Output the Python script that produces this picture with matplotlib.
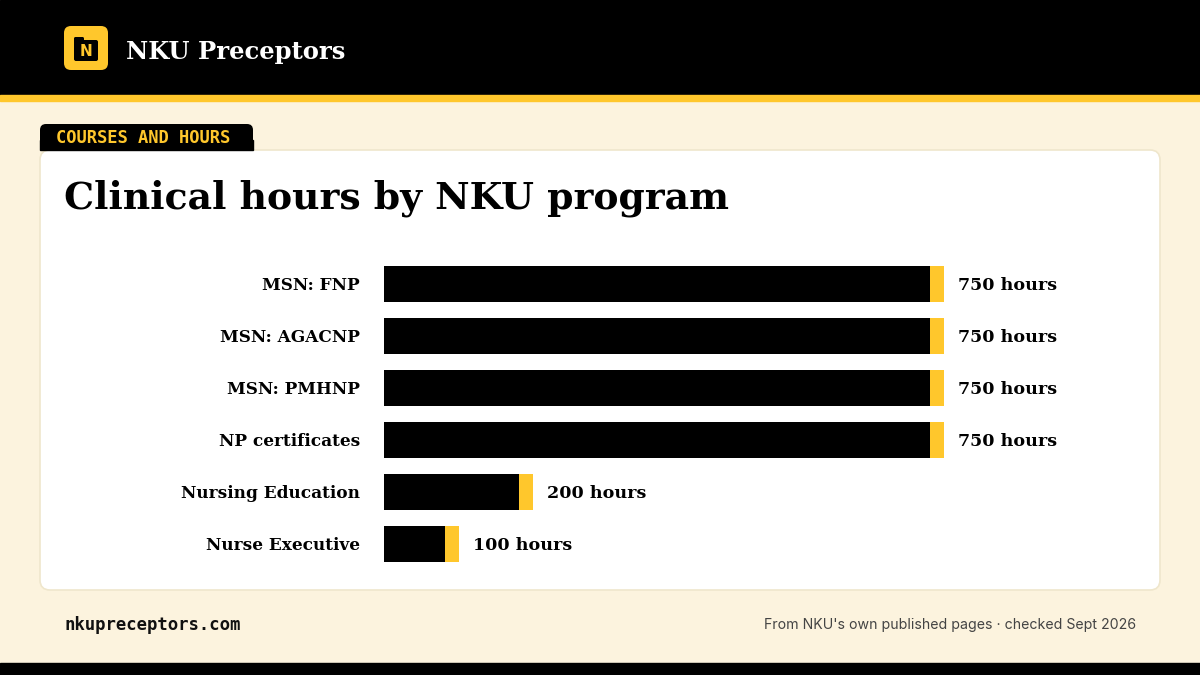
import matplotlib
matplotlib.use("Agg")
import matplotlib.pyplot as plt
from matplotlib.patches import FancyBboxPatch, Rectangle

programs = ["MSN: FNP", "MSN: AGACNP", "MSN: PMHNP", "NP certificates",
            "Nursing Education", "Nurse Executive"]
hours = [750, 750, 750, 750, 200, 100]
value_labels = [f"{h} hours" for h in hours]

title = "Clinical hours by NKU program"
brand = "NKU Preceptors"
tag = "COURSES AND HOURS"
footer_left = "nkupreceptors.com"
footer_right = "From NKU's own published pages · checked Sept 2026"

W, H = 1200, 675
BLACK = "#000000"
YELLOW = "#FFC72C"
CREAM = "#FCF3DE"
SERIF = ["DejaVu Serif"]
MONO = ["DejaVu Sans Mono"]

fig = plt.figure(figsize=(12, 6.75), dpi=100)
fig.patch.set_facecolor(CREAM)
bg = fig.add_axes([0, 0, 1, 1])
bg.set_xlim(0, W)
bg.set_ylim(H, 0)
bg.axis("off")

# header
bg.add_patch(Rectangle((0, 0), W, 95, color=BLACK, zorder=1))
bg.add_patch(Rectangle((0, 95), W, 6, color=YELLOW, zorder=1))
bg.add_patch(Rectangle((0, 663), W, 12, color=BLACK, zorder=1))
# logo
bg.add_patch(FancyBboxPatch((64 + 5, 26 + 5), 34, 34, boxstyle="round,pad=5,rounding_size=7",
                            fc=YELLOW, ec="none", zorder=2))
bg.add_patch(FancyBboxPatch((74, 40), 24, 21, boxstyle="round,pad=0,rounding_size=2",
                            fc=BLACK, ec="none", zorder=3))
bg.add_patch(FancyBboxPatch((74, 37), 10, 6, boxstyle="round,pad=0,rounding_size=1.5",
                            fc=BLACK, ec="none", zorder=3))
bg.text(86, 52, "N", color=YELLOW, fontsize=11, fontweight="bold", family=["DejaVu Sans"],
        ha="center", va="center", zorder=4)
bg.text(126, 52, brand, color="white", fontsize=17.5, fontweight="bold", family=SERIF,
        ha="left", va="center", zorder=4)

# card
bg.add_patch(FancyBboxPatch((40, 150), 1120, 440, boxstyle="round,pad=0,rounding_size=10",
                            fc="white", ec="#EFE6CC", lw=1.2, zorder=1))
# tag
bg.add_patch(FancyBboxPatch((40, 124), 213, 26, boxstyle="round,pad=0,rounding_size=6",
                            fc=BLACK, ec="none", zorder=2))
bg.add_patch(Rectangle((40, 140), 213, 10, color=BLACK, zorder=2))
bg.text(56, 138, tag, color=YELLOW, fontsize=12.3, fontweight="bold", family=MONO,
        ha="left", va="center", zorder=3)

bg.text(64, 198, title, color=BLACK, fontsize=27.2, fontweight="bold", family=SERIF,
        ha="left", va="center", zorder=3)

bg.text(64, 625, footer_left, color="#111111", fontsize=12.4, fontweight="bold", family=MONO,
        ha="left", va="center", zorder=3)
bg.text(1136, 625, footer_right, color="#444444", fontsize=10.2, family=["Inter", "DejaVu Sans"],
        ha="right", va="center", zorder=3)

# bar chart axes: x 384..944 px maps to 0..750, rows from y=258 to 570
px_per_hour = 560 / 750
ax = fig.add_axes([384 / W, 1 - 570 / H, 560 / W, 312 / H])
ax.set_xlim(0, 750)
ax.set_ylim(len(programs) - 0.5, -0.5)
ax.axis("off")
cap = 14 / px_per_hour
ys = list(range(len(programs)))
ax.barh(ys, hours, height=36 / 52, color=BLACK, zorder=2)
ax.barh(ys, [cap] * len(hours), left=[h - cap for h in hours], height=36 / 52,
        color=YELLOW, zorder=3)
for y, name, h, lab in zip(ys, programs, hours, value_labels):
    ax.annotate(name, (0, y), xytext=(-24, -1.5), textcoords="offset pixels",
                ha="right", va="center", fontsize=12.2, fontweight="bold", family=SERIF,
                color=BLACK, annotation_clip=False)
    ax.annotate(lab, (h, y), xytext=(14, -1.5), textcoords="offset pixels",
                ha="left", va="center", fontsize=12.6, fontweight="bold", family=SERIF,
                color=BLACK, annotation_clip=False)

fig.savefig("out.png", dpi=100, facecolor=CREAM)
